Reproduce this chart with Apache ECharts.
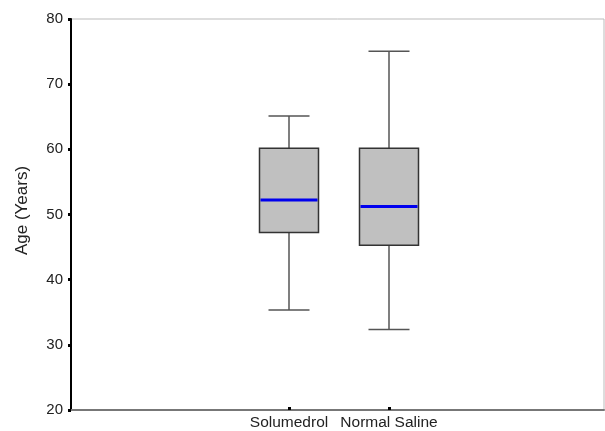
<!DOCTYPE html>
<html><head><meta charset="utf-8">
<script src="https://cdn.jsdelivr.net/npm/echarts@6/dist/echarts.min.js"></script>
<style>html,body{margin:0;padding:0;background:#fff}#c{width:605px;height:431px}</style>
</head><body><div id="c"></div>
<script>
const categories = ['Solumedrol', 'Normal Saline'];
const whiskerLow = [35, 32];
const q1 = [47, 45];
const median = [52, 51];
const q3 = [60, 60];
const whiskerHigh = [65, 75];
const yTicks = [20, 30, 40, 50, 60, 70, 80];

const data = categories.map((c, i) => [i, whiskerLow[i], q1[i], median[i], q3[i], whiskerHigh[i]]);

const chart = echarts.init(document.getElementById('c'), null, {renderer: 'canvas'});
const font = 'Liberation Sans, Arial, sans-serif';
chart.setOption({
  animation: false,
  grid: [
    {left: 71, right: 1, top: 19, bottom: 21, show: true, borderColor: '#bbb', borderWidth: 1},
    {left: 239, width: 200, top: 19, bottom: 21}
  ],
  xAxis: [
    {gridIndex: 0, type: 'value', min: 0, max: 1, axisLine: {show: true, onZero: false, lineStyle: {color: '#777', width: 2}},
     axisTick: {show: false}, axisLabel: {show: false}, splitLine: {show: false}},
    {gridIndex: 1, type: 'category', data: categories, boundaryGap: true,
     axisLine: {show: false}, axisTick: {show: true, alignWithLabel: true, length: 3, lineStyle: {color: '#000', width: 3}},
     axisLabel: {color: '#222', fontSize: 15.5, fontFamily: font, margin: 8, interval: 0}, splitLine: {show: false}}
  ],
  yAxis: [
    {gridIndex: 0, type: 'value', min: yTicks[0], max: yTicks[yTicks.length - 1], interval: 10,
     name: 'Age (Years)', nameLocation: 'middle', nameGap: 40, nameRotate: 90,
     nameTextStyle: {color: '#222', fontSize: 17, fontFamily: font, padding: [0, 0, 0, 8]},
     axisLine: {show: true, lineStyle: {color: '#000', width: 2}},
     axisTick: {show: true, length: 3, lineStyle: {color: '#000', width: 3}},
     axisLabel: {color: '#222', fontSize: 15, fontFamily: font, margin: 8},
     splitLine: {show: false}},
    {gridIndex: 1, type: 'value', min: yTicks[0], max: yTicks[yTicks.length - 1], interval: 10,
     show: false}
  ],
  series: [{
    type: 'custom',
    xAxisIndex: 1, yAxisIndex: 1,
    data: data,
    encode: {x: 0, y: [1, 2, 3, 4, 5]},
    renderItem: function (params, api) {
      const ci = api.value(0);
      const pLow = api.coord([ci, api.value(1)]);
      const pQ1 = api.coord([ci, api.value(2)]);
      const pMed = api.coord([ci, api.value(3)]);
      const pQ3 = api.coord([ci, api.value(4)]);
      const pHigh = api.coord([ci, api.value(5)]);
      const band = api.size([1, 0])[0];
      const bw = band * 0.59, cw = band * 0.41;
      const cx = pMed[0];
      const wStyle = {stroke: '#555', lineWidth: 1.5};
      return {
        type: 'group',
        children: [
          {type: 'line', shape: {x1: cx, y1: pHigh[1], x2: cx, y2: pQ3[1]}, style: wStyle},
          {type: 'line', shape: {x1: cx, y1: pLow[1], x2: cx, y2: pQ1[1]}, style: wStyle},
          {type: 'line', shape: {x1: cx - cw / 2, y1: pHigh[1], x2: cx + cw / 2, y2: pHigh[1]}, style: wStyle},
          {type: 'line', shape: {x1: cx - cw / 2, y1: pLow[1], x2: cx + cw / 2, y2: pLow[1]}, style: wStyle},
          {type: 'rect', shape: {x: cx - bw / 2, y: pQ3[1], width: bw, height: pQ1[1] - pQ3[1]},
           style: {fill: '#c0c0c0', stroke: '#333', lineWidth: 1.5}},
          {type: 'line', shape: {x1: cx - bw / 2 + 1, y1: pMed[1], x2: cx + bw / 2 - 1, y2: pMed[1]},
           style: {stroke: '#0000ee', lineWidth: 3}}
        ]
      };
    }
  }]
});
</script></body></html>
